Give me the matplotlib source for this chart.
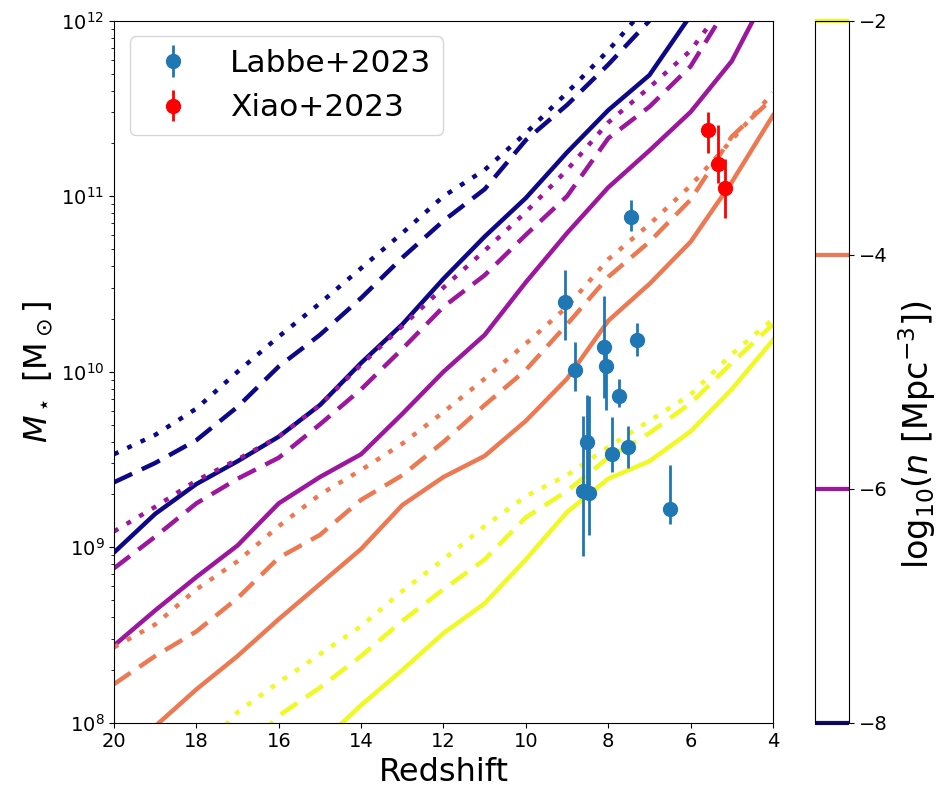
import numpy as np
import matplotlib
matplotlib.use("Agg")
import matplotlib.pyplot as plt
from matplotlib.colors import ListedColormap, Normalize
from matplotlib.cm import ScalarMappable

# redshift grid of the model curves
redshift = [20, 19, 18, 17, 16, 15, 14, 13, 12, 11, 10, 9, 8, 7, 6, 5, 4]
nan = np.nan

# log10 stellar mass, number density 1e-8 Mpc^-3
logm_n8_solid = [8.97, 9.19, 9.36, 9.49, 9.63, 9.81, 10.05, 10.27, 10.53, 10.77, 10.99, 11.25, 11.49, 11.69, 12.03, 12.35, 12.65]
logm_n8_dashed = [9.37, 9.48, 9.61, 9.80, 10.03, 10.21, 10.42, 10.65, 10.86, 11.04, 11.32, 11.52, 11.75, 12.00, 12.30, 12.60, 12.90]
logm_n8_dotted = [9.53, 9.64, 9.79, 10.00, 10.20, 10.39, 10.59, 10.79, 11.00, 11.15, 11.36, 11.59, 11.83, 12.10, 12.40, 12.70, 13.00]

# 1e-6 Mpc^-3
logm_n6_solid = [8.44, 8.64, 8.83, 9.01, 9.25, 9.40, 9.53, 9.76, 10.00, 10.21, 10.51, 10.79, 11.05, 11.26, 11.48, 11.77, 12.22]
logm_n6_dashed = [8.88, 9.06, 9.25, 9.39, 9.51, 9.70, 9.90, 10.13, 10.37, 10.55, 10.78, 11.00, 11.33, 11.51, 11.74, 12.12, 12.45]
logm_n6_dotted = [9.09, 9.23, 9.38, 9.50, 9.63, 9.81, 10.04, 10.26, 10.48, 10.69, 10.91, 11.15, 11.42, 11.62, 11.83, 12.15, 12.45]

# 1e-4 Mpc^-3
logm_n4_solid = [nan, 7.98, 8.19, 8.38, 8.59, 8.79, 8.99, 9.24, 9.40, 9.52, 9.72, 9.96, 10.29, 10.50, 10.74, 11.08, 11.46]
logm_n4_dashed = [8.22, 8.38, 8.52, 8.71, 8.94, 9.07, 9.27, 9.41, 9.60, 9.81, 10.01, 10.27, 10.54, 10.74, 10.98, 11.34, 11.56]
logm_n4_dotted = [8.43, 8.56, 8.76, 8.92, 9.12, 9.30, 9.44, 9.59, 9.77, 9.96, 10.16, 10.37, 10.64, 10.84, 11.06, 11.32, 11.59]

# 1e-2 Mpc^-3
logm_n2_solid = [nan, nan, nan, nan, nan, 7.88, 8.10, 8.30, 8.51, 8.68, 8.93, 9.20, 9.39, 9.49, 9.66, 9.90, 10.18]
logm_n2_dashed = [nan, nan, nan, 7.80, 8.04, 8.20, 8.38, 8.58, 8.76, 8.93, 9.17, 9.32, 9.51, 9.65, 9.82, 10.05, 10.27]
logm_n2_dotted = [nan, nan, 7.80, 8.06, 8.23, 8.39, 8.55, 8.75, 8.93, 9.12, 9.29, 9.41, 9.57, 9.72, 9.87, 10.10, 10.30]

density_levels = [-8, -6, -4, -2]

# observations
labbe_z = [9.05, 8.81, 8.10, 8.06, 7.30, 7.74, 7.45, 8.51, 8.61, 8.46, 7.90, 7.52, 6.49]
labbe_logm = [10.40, 10.01, 10.14, 10.03, 10.18, 9.86, 10.88, 9.60, 9.32, 9.31, 9.53, 9.57, 9.22]
labbe_err_lo = [0.22, 0.12, 0.29, 0.25, 0.09, 0.06, 0.08, 0.30, 0.37, 0.24, 0.10, 0.12, 0.09]
labbe_err_hi = [0.18, 0.16, 0.29, 0.15, 0.10, 0.10, 0.10, 0.27, 0.43, 0.55, 0.21, 0.12, 0.25]

xiao_z = [5.57, 5.33, 5.17]
xiao_logm = [11.38, 11.185, 11.044]
xiao_err_lo = [0.135, 0.11, 0.17]
xiao_err_hi = [0.10, 0.22, 0.17]


def mass_err(logm, lo, hi):
    logm = np.array(logm)
    m = 10 ** logm
    return m, [m - 10 ** (logm - np.array(lo)), 10 ** (logm + np.array(hi)) - m]


fig = plt.figure(figsize=(9.4, 7.97), dpi=100)
ax = fig.add_axes([0.1213, 0.0932, 0.701, 0.8808])
cax = fig.add_axes([0.867, 0.0932, 0.0365, 0.8808])

cmap = plt.get_cmap("plasma")
norm = Normalize(vmin=-8, vmax=-2)

# line patterns, in units of the line width
styles = {"solid": None, "dashed": (4.5, 2.4), "dotted": (1.1, 2.2)}

curves = [
    (-8, "solid", logm_n8_solid), (-8, "dashed", logm_n8_dashed), (-8, "dotted", logm_n8_dotted),
    (-6, "solid", logm_n6_solid), (-6, "dashed", logm_n6_dashed), (-6, "dotted", logm_n6_dotted),
    (-4, "solid", logm_n4_solid), (-4, "dashed", logm_n4_dashed), (-4, "dotted", logm_n4_dotted),
    (-2, "solid", logm_n2_solid), (-2, "dashed", logm_n2_dashed), (-2, "dotted", logm_n2_dotted),
]
for level, style, logm in curves:
    line, = ax.plot(redshift, 10 ** np.array(logm), lw=3.2, color=cmap(norm(level)))
    if styles[style] is not None:
        line.set_dashes(styles[style])

m, yerr = mass_err(labbe_logm, labbe_err_lo, labbe_err_hi)
ax.errorbar(labbe_z, m, yerr=yerr, fmt="o", color="C0", ms=10, elinewidth=2, label="Labbe+2023")
m, yerr = mass_err(xiao_logm, xiao_err_lo, xiao_err_hi)
ax.errorbar(xiao_z, m, yerr=yerr, fmt="o", color="red", ms=10, elinewidth=2, label="Xiao+2023")

ax.set_yscale("log")
ax.set_xlim(20, 4)
ax.set_ylim(1e8, 1e12)
ax.set_xticks([20, 18, 16, 14, 12, 10, 8, 6, 4])
ax.tick_params(labelsize=14)
ax.set_xlabel("Redshift", fontsize=23)
ax.set_ylabel(r"$M_\star$ [M$_\odot$]", fontsize=23)
ax.legend(loc="upper left", fontsize=22.5)

# colorbar with only the density levels drawn as lines
cb = fig.colorbar(ScalarMappable(norm=norm, cmap=ListedColormap(["white"])), cax=cax,
                  ticks=density_levels)
cb.add_lines(density_levels, [cmap(norm(l)) for l in density_levels], [3] * 4)
cb.ax.tick_params(labelsize=14)
cb.set_label(r"log$_{10}$($n$ [Mpc$^{-3}$])", fontsize=24, labelpad=6)
cax.yaxis.label.set_y(0.41)

fig.savefig("out.png", dpi=100)
